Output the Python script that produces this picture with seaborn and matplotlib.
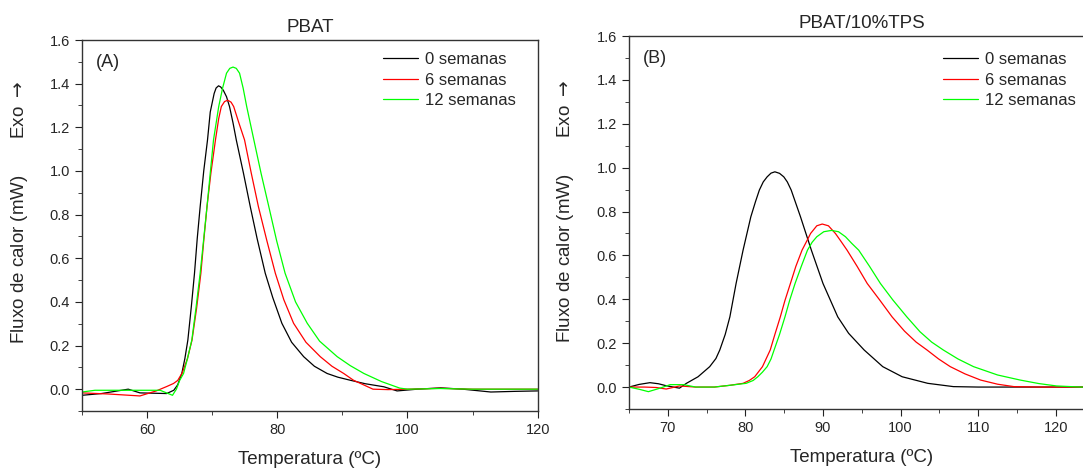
import matplotlib
matplotlib.use('Agg')
import matplotlib.pyplot as plt
from matplotlib.ticker import MultipleLocator
import pandas as pd
import seaborn as sns

# (A) PBAT - temperatura (ºC) / fluxo de calor (mW)
a0_t = [50, 53, 57.1, 58.9, 63.0, 64.1, 64.7, 65.33, 65.8, 66.26, 66.8, 67.28, 67.7, 68.15,
        68.7, 69.28, 69.7, 70.3, 70.6, 70.97, 71.3, 71.7, 72.2, 72.66, 73.2, 73.7, 74.8,
        75.85, 76.9, 78.15, 79.3, 80.7, 82.2, 84.05, 85.7, 87.65, 89.3, 91.2, 93.5, 96.36,
        98.4, 101.5, 105.1, 108.5, 112.8, 116.5, 120]
a0_v = [-0.028, -0.02, 0.0, -0.017, -0.02, -0.005, 0.02, 0.072, 0.14, 0.225, 0.38, 0.531,
        0.69, 0.836, 1.0, 1.142, 1.27, 1.355, 1.38, 1.39, 1.385, 1.37, 1.34, 1.295, 1.22,
        1.142, 0.99, 0.836, 0.69, 0.531, 0.42, 0.302, 0.215, 0.149, 0.105, 0.072, 0.055,
        0.041, 0.025, 0.011, -0.008, 0.0, 0.006, 0.0, -0.013, -0.01, -0.008]

a6_t = [50, 54, 58.9, 61.4, 63, 64.05, 64.7, 65.4, 66.2, 66.9, 67.6, 68.26, 68.7, 69.2, 69.8,
        70.5, 71.0, 71.4, 71.9, 72.4, 72.9, 73.3, 74.1, 74.97, 76.0, 77.1, 78.4, 79.7, 81.0,
        82.5, 84.4, 86.6, 88.4, 90.2, 91.7, 94.7, 97, 100, 105, 110, 115, 120]
a6_v = [-0.017, -0.022, -0.031, -0.008, 0.012, 0.026, 0.04, 0.075, 0.14, 0.225, 0.37, 0.531,
        0.68, 0.836, 0.99, 1.142, 1.24, 1.295, 1.318, 1.324, 1.315, 1.295, 1.22, 1.142,
        0.99, 0.836, 0.68, 0.531, 0.41, 0.302, 0.215, 0.149, 0.105, 0.072, 0.041, 0.0,
        -0.002, 0.0, 0.004, 0.0, 0.0, 0.0]

a12_t = [50, 52, 56, 62, 63.9, 64.5, 65.0, 65.6, 66.2, 66.87, 67.5, 68.15, 68.7, 69.2, 69.7,
         70.2, 71.0, 71.6, 72.2, 72.7, 73.2, 73.7, 74.2, 74.75, 75.3, 76.4, 77.5, 78.7, 79.9,
         81.2, 82.8, 84.6, 86.5, 89.2, 91.2, 93.3, 96, 98.8, 100, 105, 110, 115, 120]
a12_v = [-0.013, -0.005, -0.005, -0.005, -0.028, 0.0, 0.04, 0.072, 0.14, 0.225, 0.37, 0.531,
         0.69, 0.836, 0.99, 1.142, 1.295, 1.38, 1.448, 1.47, 1.476, 1.47, 1.448, 1.38, 1.295,
         1.142, 0.99, 0.836, 0.68, 0.531, 0.40, 0.302, 0.22, 0.149, 0.108, 0.072, 0.035,
         0.005, 0.0, 0.003, 0.0, 0.0, 0.0]

# (B) PBAT/10%TPS
b0_t = [65, 66.3, 67.7, 68.8, 69.8, 71.5, 72.4, 73.9, 75.4, 76.2, 76.7, 77.4, 78.0, 78.8,
        79.7, 80.7, 81.3, 81.8, 82.3, 82.8, 83.3, 83.8, 84.4, 84.95, 85.4, 85.9, 87.1, 88.5,
        90.0, 91.9, 93.3, 95.3, 97.7, 100.2, 103.5, 106.8, 110, 115, 120, 125]
b0_v = [0.0, 0.012, 0.02, 0.015, 0.006, -0.005, 0.017, 0.047, 0.093, 0.13, 0.169, 0.24, 0.32,
        0.472, 0.624, 0.776, 0.845, 0.898, 0.935, 0.958, 0.975, 0.981, 0.974, 0.958, 0.935,
        0.898, 0.776, 0.624, 0.472, 0.32, 0.245, 0.169, 0.093, 0.047, 0.017, 0.002, 0.0,
        0.0, 0.0, 0.0]

b6_t = [65, 67, 68.5, 69.8, 71.5, 73.6, 76, 78, 79.7, 80.5, 81.2, 82.2, 83.2, 83.8, 84.5,
        85.1, 85.8, 86.5, 87.3, 87.9, 88.4, 89.2, 89.9, 90.7, 91.6, 92.3, 93.1, 94.4, 95.7,
        97.3, 98.9, 100.5, 102.0, 103.4, 104.9, 106.4, 108.3, 110.3, 112.5, 114.6, 118, 125]
b6_v = [0.0, 0.0, -0.002, -0.009, 0.005, 0.0, 0.0, 0.008, 0.017, 0.03, 0.047, 0.093, 0.169,
        0.24, 0.32, 0.395, 0.472, 0.55, 0.624, 0.665, 0.70, 0.735, 0.743, 0.735, 0.70,
        0.665, 0.624, 0.55, 0.472, 0.397, 0.32, 0.255, 0.205, 0.169, 0.128, 0.093, 0.06,
        0.032, 0.013, 0.002, 0.0, 0.0]

b12_t = [65, 66.3, 67.5, 69, 70.3, 72.0, 73.6, 76, 78, 80.1, 81.0, 81.6, 82.2, 82.8, 83.3,
         83.7, 84.4, 85.1, 85.7, 86.4, 87.2, 88.0, 88.6, 89.2, 90.1, 91.1, 92.0, 92.9, 93.7,
         94.6, 96.0, 97.4, 99.0, 100.8, 102.5, 104.0, 105.5, 107.4, 109.4, 112.5, 115.4,
         117.8, 120.1, 123.2, 125]
b12_v = [0.0, -0.01, -0.021, -0.005, 0.011, 0.011, 0.0, 0.0, 0.008, 0.017, 0.03, 0.047,
         0.068, 0.093, 0.128, 0.169, 0.24, 0.32, 0.395, 0.472, 0.55, 0.624, 0.66, 0.685,
         0.708, 0.714, 0.708, 0.685, 0.655, 0.624, 0.55, 0.472, 0.397, 0.32, 0.252, 0.205,
         0.169, 0.128, 0.093, 0.055, 0.032, 0.016, 0.005, 0.0, 0.0]

labels = ['0 semanas', '6 semanas', '12 semanas']
colors = ['#000000', '#ff0000', '#00ff00']

sns.set_style('ticks')
plt.rcParams['font.family'] = ['Liberation Sans', 'DejaVu Sans']
plt.rcParams['mathtext.fontset'] = 'dejavusans'
plt.rcParams['xtick.major.size'] = 5
plt.rcParams['ytick.major.size'] = 5
plt.rcParams['xtick.minor.size'] = 2.8
plt.rcParams['ytick.minor.size'] = 2.8

W, H = 1083, 468
fig = plt.figure(figsize=(W / 100, H / 100), dpi=100)
ax_a = fig.add_axes([82 / W, 1 - 411 / H, 455.7 / W, 371 / H])
ax_b = fig.add_axes([629 / W, 1 - 409 / H, 465.6 / W, 373 / H])

panels = [
    (ax_a, [(a0_t, a0_v), (a6_t, a6_v), (a12_t, a12_v)], 'PBAT', '(A)', (50, 120), 20, 10),
    (ax_b, [(b0_t, b0_v), (b6_t, b6_v), (b12_t, b12_v)], 'PBAT/10%TPS', '(B)', (65, 125), 10, 5),
]

for ax, series, title, tag, xlim, xmaj, xmin in panels:
    for (t, v), lab, c in zip(series, labels, colors):
        df = pd.DataFrame({'T': t, 'Q': v})
        sns.lineplot(data=df, x='T', y='Q', color=c, label=lab, lw=0.9,
                     estimator=None, ax=ax)
    ax.set_xlim(*xlim)
    ax.set_ylim(-0.1, 1.6)
    ax.xaxis.set_major_locator(MultipleLocator(xmaj))
    ax.xaxis.set_minor_locator(MultipleLocator(xmin))
    ax.yaxis.set_major_locator(MultipleLocator(0.2))
    ax.yaxis.set_minor_locator(MultipleLocator(0.1))
    ax.tick_params(which='both', direction='out', top=False, right=False,
                   labelsize=10.5, color='#222222')
    for s in ax.spines.values():
        s.set_visible(True)
        s.set_linewidth(1.0)
        s.set_color('#333333')
    ax.set_title(title, fontsize=13.5, pad=5.5)
    ax.set_xlabel('Temperatura (ºC)', fontsize=13.5, labelpad=10)
    ax.set_ylabel('')
    ax.text(0.03, 0.94, tag, transform=ax.transAxes, fontsize=13, va='center')

ax_a.legend(loc='upper right', bbox_to_anchor=(0.952, 0.967), frameon=False, fontsize=12,
            handlelength=2.1, handletextpad=0.4, labelspacing=0.33, borderpad=0,
            borderaxespad=0)
ax_b.legend(loc='upper right', bbox_to_anchor=(0.96, 0.957), frameon=False, fontsize=12,
            handlelength=2.1, handletextpad=0.4, labelspacing=0.33, borderpad=0,
            borderaxespad=0)

ylab = 'Fluxo de calor (mW)       Exo $\\rightarrow$'
fig.text(20 / W, 1 - 212.7 / H, ylab, rotation=90, ha='center', va='center', fontsize=13.5)
fig.text(566 / W, 1 - 211 / H, ylab, rotation=90, ha='center', va='center', fontsize=13.5)

fig.savefig('out.png', dpi=100)
